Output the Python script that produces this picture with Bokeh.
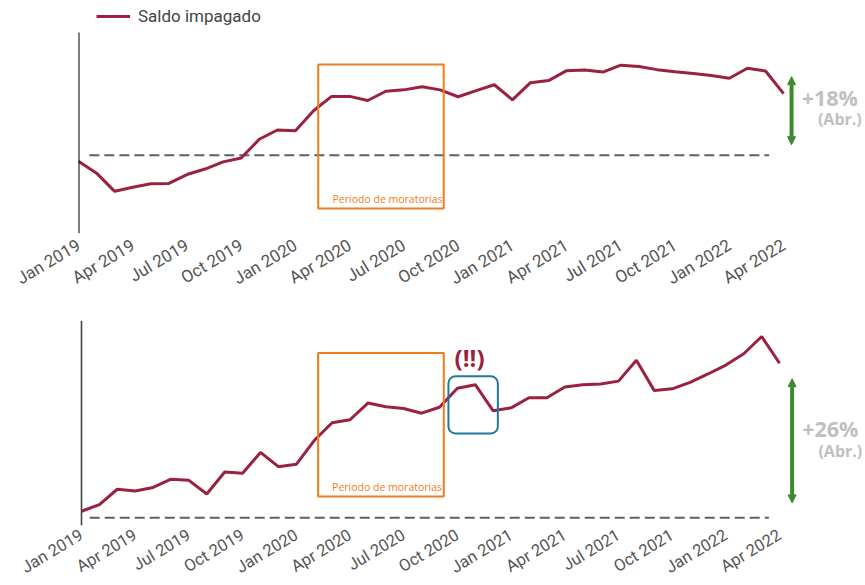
from bokeh.plotting import figure
from bokeh.layouts import column
from bokeh.models import (FixedTicker, BoxAnnotation, Label, Legend, LegendItem,
                          Arrow, NormalHead, Range1d)
from bokeh.embed import file_html
from bokeh.resources import INLINE

# ---------------- data ----------------
months = list(range(40))  # Jan 2019 .. Apr 2022
tick_pos = [0, 3, 6, 9, 12, 15, 18, 21, 24, 27, 30, 33, 36, 39]
tick_labels = ["Jan 2019", "Apr 2019", "Jul 2019", "Oct 2019", "Jan 2020", "Apr 2020",
               "Jul 2020", "Oct 2020", "Jan 2021", "Apr 2021", "Jul 2021", "Oct 2021",
               "Jan 2022", "Apr 2022"]

saldo_top = [98.3, 94.8, 89.5, 90.7, 91.7, 91.8, 94.4, 96.0, 98.1, 99.2,
             104.7, 107.4, 107.2, 113.0, 117.2, 117.2, 116.0, 118.7, 119.1, 120.0,
             119.1, 117.1, 118.9, 120.6, 116.2, 121.2, 121.8, 124.7, 124.9, 124.3,
             126.3, 125.9, 125.0, 124.4, 123.9, 123.3, 122.5, 125.4, 124.6, 118.0]

saldo_bottom = [101.1, 102.2, 104.8, 104.5, 105.1, 106.5, 106.3, 104.0, 107.7, 107.5,
                111.0, 108.6, 109.0, 113.0, 116.0, 116.5, 119.3, 118.7, 118.4, 117.6,
                118.6, 121.8, 122.4, 118.0, 118.5, 120.2, 120.2, 122.0, 122.4, 122.5,
                123.0, 126.5, 121.4, 121.7, 122.8, 124.2, 125.7, 127.6, 130.5, 126.0]

baseline = 100.0
series_name = "Saldo impagado"
moratoria_label = "Periodo de moratorias"
growth_top, growth_bottom = "+18%", "+26%"
growth_note = "(Abr.)"
alert_text = "(!!)"

LINE_COLOR = "#9b2140"
ORANGE = "#ef7d1c"
BLUE = "#1f7a99"
GREEN = "#3f8a2c"
GREY_TXT = "#c0c0c0"
DASH_COLOR = "#556270"
TICK_COLOR = "#555555"


def make_fig(x0, x1, y0, y1, frame_h, top, bottom, axis_color, axis_width,
             font_size, standoff, axis_bounds):
    p = figure(output_backend="svg", toolbar_location=None,
               frame_width=787, frame_height=frame_h,
               x_range=Range1d(x0, x1), y_range=Range1d(y0, y1),
               min_border_left=78, min_border_top=top, min_border_right=0,
               min_border_bottom=bottom)
    p.outline_line_color = None
    p.grid.visible = False
    p.background_fill_color = "white"
    p.border_fill_color = "white"
    ya = p.yaxis[0]
    ya.fixed_location = 0
    ya.bounds = axis_bounds
    ya.major_tick_line_color = None
    ya.minor_tick_line_color = None
    ya.major_tick_out = 0
    ya.major_tick_in = 0
    ya.major_label_text_font_size = "0px"
    ya.axis_line_color = axis_color
    ya.axis_line_width = axis_width
    xa = p.xaxis[0]
    xa.ticker = FixedTicker(ticks=tick_pos)
    xa.major_label_overrides = {t: l for t, l in zip(tick_pos, tick_labels)}
    xa.major_label_orientation = 0.54
    xa.axis_line_color = None
    xa.major_tick_line_color = None
    xa.minor_tick_line_color = None
    xa.major_tick_out = 0
    xa.major_tick_in = 0
    xa.major_label_text_font = "Roboto"
    xa.major_label_text_font_size = font_size
    xa.major_label_text_color = TICK_COLOR
    xa.major_label_standoff = standoff
    return p


def box(left, right, bottom, top, color, radius=0):
    return BoxAnnotation(left=left, right=right, bottom=bottom, top=top,
                         fill_alpha=0, line_color=color, line_alpha=1, line_width=2,
                         border_radius=radius)


def head():
    return NormalHead(size=8, fill_color=GREEN, line_color=GREEN)


# ---------------- top chart ----------------
p1 = make_fig(0, 43.53, 77.2, 145.17, 233, 0, 70, "#000000", 2, "17px", 10,
              (77.2, 135.8))
p1.segment(x0=[0.6], y0=[baseline], x1=[38.2], y1=[baseline], line_color=DASH_COLOR,
           line_width=2, line_dash="10 5")
r1 = p1.line(months, saldo_top, line_color=LINE_COLOR, line_width=3)
p1.add_layout(box(13.26, 20.2, 84.5, 126.5, ORANGE))
p1.add_layout(Label(x=14.05, y=84.5, y_offset=2, text=moratoria_label,
                    text_font="Open Sans", text_font_size="10.5px", text_color=ORANGE))
p1.add_layout(Arrow(start=head(), end=head(),
                    x_start=39.44, y_start=103.1, x_end=39.44, y_end=122.96,
                    line_color=GREEN, line_width=4))
p1.add_layout(Label(x=40.0, y=116.9, text=growth_top, text_font="Open Sans",
                    text_font_style="bold", text_font_size="21.5px", text_color=GREY_TXT,
                    text_baseline="middle"))
p1.add_layout(Label(x=40.9, y=110.7, text=growth_note, text_font="Open Sans",
                    text_font_style="bold", text_font_size="16px", text_color=GREY_TXT,
                    text_baseline="middle"))
legend = Legend(items=[LegendItem(label=series_name, renderers=[r1])],
                location=(18, 207), orientation="horizontal",
                border_line_color=None, background_fill_alpha=0,
                label_text_font="Roboto", label_text_font_size="17px",
                label_text_color="#444444", glyph_width=34, glyph_height=20,
                label_height=20, label_standoff=8,
                padding=0, margin=0, spacing=0)
p1.add_layout(legend, "center")

# ---------------- bottom chart ----------------
p2 = make_fig(-0.1676, 43.80, 98.7, 133.2, 205, 17, 20, "#444444", 1.6, "16.5px", 8,
              "auto")
p2.segment(x0=[0.46], y0=[baseline], x1=[38.4], y1=[baseline], line_color=DASH_COLOR,
           line_width=2, line_dash="10 5")
p2.line(months, saldo_bottom, line_color=LINE_COLOR, line_width=3)
p2.add_layout(box(13.22, 20.24, 103.6, 127.75, ORANGE))
p2.add_layout(Label(x=14.0, y=103.6, y_offset=2, text=moratoria_label,
                    text_font="Open Sans", text_font_size="10.5px", text_color=ORANGE))
p2.add_layout(box(20.5, 23.26, 114.2, 123.8, BLUE, radius=7))
p2.add_layout(Label(x=21.68, y=126.96, text=alert_text, text_font="Open Sans",
                    text_font_style="bold", text_font_size="24px", text_color=LINE_COLOR,
                    text_align="center", text_baseline="middle"))
p2.add_layout(Arrow(start=head(), end=head(),
                    x_start=39.7, y_start=102.5, x_end=39.7, y_end=123.4,
                    line_color=GREEN, line_width=4))
p2.add_layout(Label(x=40.26, y=114.97, text=growth_bottom, text_font="Open Sans",
                    text_font_style="bold", text_font_size="21.5px", text_color=GREY_TXT,
                    text_baseline="middle"))
p2.add_layout(Label(x=41.17, y=111.3, text=growth_note, text_font="Open Sans",
                    text_font_style="bold", text_font_size="16px", text_color=GREY_TXT,
                    text_baseline="middle"))

layout = column(p1, p2, spacing=0)
open("out.html", "w").write(file_html(layout, INLINE))
